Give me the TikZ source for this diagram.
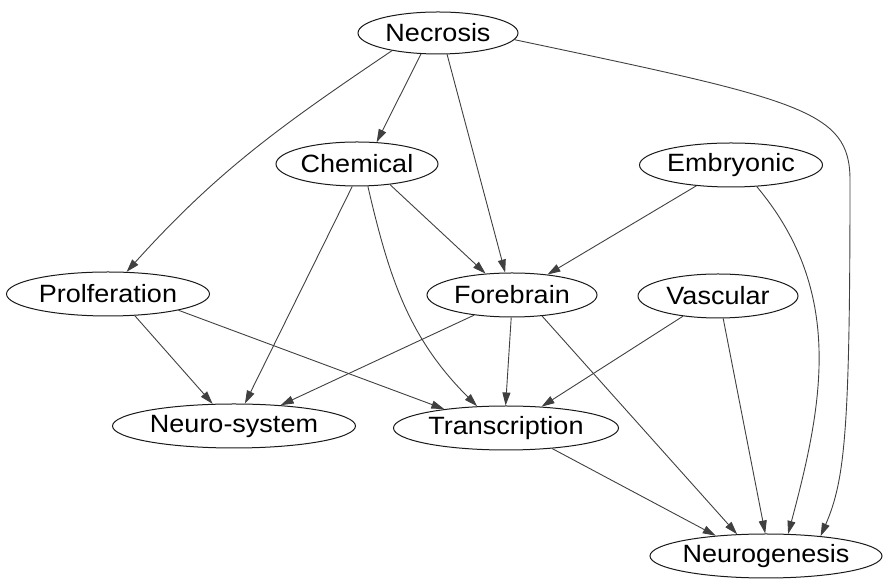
\documentclass[tikz,border=0pt]{standalone}
\usepackage{fontspec}
\setmainfont{Liberation Sans}
\usepackage{graphicx}
\usetikzlibrary{arrows.meta,shapes.geometric}

\newcommand{\wlbl}[1]{\scalebox{1.08}[1]{#1}}

\begin{document}
\begin{tikzpicture}[
  x=1pt,y=1pt,
  ent/.style={draw=black!90,ellipse,line width=1pt,inner xsep=-6pt,inner ysep=0pt,minimum height=44pt,font=\fontsize{25}{28}\selectfont},
  arr/.style={-{Triangle[length=13pt,width=8pt]},line width=0.9pt,draw=black!75}
]
\useasboundingbox (0,0) rectangle (883,580);

\node[ent,minimum width=160pt,minimum height=42pt] (necrosis) at (438,547) {\wlbl{Necrosis}};
\node[ent,minimum width=162pt] (chemical)  at (357,416) {\wlbl{Chemical}};
\node[ent,minimum width=183pt] (embryonic) at (731,415) {\wlbl{Embryonic}};
\node[ent,minimum width=203pt] (prolif)    at (108,286) {\wlbl{Prolferation}};
\node[ent,minimum width=170pt] (forebrain) at (512,285) {\wlbl{Forebrain}};
\node[ent,minimum width=160pt] (vascular)  at (718,284) {\wlbl{Vascular}};
\node[ent,minimum width=243pt] (neurosys)  at (234,154) {\wlbl{Neuro-system}};
\node[ent,minimum width=225pt] (transcr)   at (506,152) {\wlbl{Transcription}};
\node[ent,minimum width=232pt] (neurogen)  at (766,24)  {\wlbl{Neurogenesis}};

\draw[arr] (necrosis.231) -- (chemical.48);
\draw[arr] (necrosis.201) to[out=214,in=48] (prolif.50);
\draw[arr] (necrosis.-67) -- (forebrain.107);
\draw[arr] (necrosis.-5) .. controls (800,480) and (850,470) .. (850,400)
   .. controls (850,150) and (845,100) .. (neurogen.20);

\draw[arr] (chemical.-102) -- (neurosys.64);
\draw[arr] (chemical.-32) -- (forebrain.141);
\draw[arr] (chemical.-64) to[out=-77,in=135] (transcr.143);

\draw[arr] (embryonic.211) -- (forebrain.30);
\draw[arr] (embryonic.-40) to[out=-50,in=75] (neurogen.45);

\draw[arr] (prolif.-39) -- (neurosys.134);
\draw[arr] (prolif.-13) -- (transcr.163);

\draw[arr] (forebrain.208) -- (neurosys.24);
\draw[arr] (forebrain.-92) -- (transcr.91);
\draw[arr] (forebrain.-35) -- (neurogen.143);

\draw[arr] (vascular.210) -- (transcr.31);
\draw[arr] (vascular.-77) -- (neurogen.92);

\draw[arr] (transcr.-24) -- (neurogen.158);
\end{tikzpicture}
\end{document}
